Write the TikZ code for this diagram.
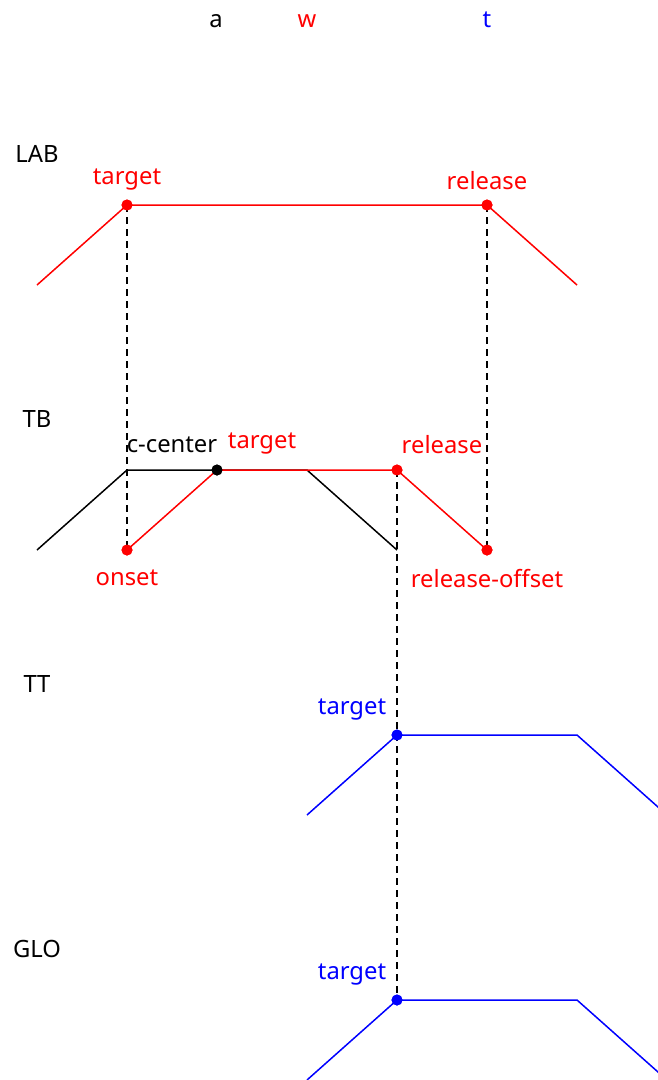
\documentclass[tikz,border=0pt]{standalone}
\usepackage{fontspec}
\setmainfont{Noto Sans}
\begin{document}
\begin{tikzpicture}[x=1pt,y=-1pt,
  txt/.style={inner sep=0pt,font=\fontsize{23.8}{28}\selectfont},
  row/.style={txt,anchor=base},
  up/.style={txt,anchor=south},
  down/.style={txt,anchor=north},
  guide/.style={draw=black,line width=1.5pt,dash pattern=on 7pt off 5pt},
  traj/.style={line width=1.5pt},
  dot/.style={circle,fill,inner sep=0pt,minimum size=11pt}]
\useasboundingbox (0,0) rectangle (658,1080);
\clip (0,0) rectangle (658,1080);
% header
\node[row] (ha) at (216,27) {a};
\node[row,text=red] (hw) at (307,27) {w};
\node[row,text=blue] (ht) at (487,27) {t};
% row labels
\node[row] (lab) at (37,162) {LAB};
\node[row] (tb) at (37,427) {TB};
\node[row] (tt) at (37,692) {TT};
\node[row] (glo) at (37,957) {GLO};
% coordinates
\coordinate (L0) at (37,285); \coordinate (L3) at (577,285);
\coordinate (B0) at (37,550); \coordinate (B1) at (127,470);
\coordinate (B2) at (307,470); \coordinate (B3) at (397,550);
\coordinate (T0) at (307,815); \coordinate (T2) at (577,735); \coordinate (T3) at (667,815);
\coordinate (G0) at (307,1080); \coordinate (G2) at (577,1000); \coordinate (G3) at (667,1080);
% points
\node[dot,red] (Ltar) at (127,205) {};
\node[dot,red] (Lrel) at (487,205) {};
\node[dot,red] (Bon) at (127,550) {};
\node[dot,black] (Bcc) at (217,470) {};
\node[dot,red] (Brel) at (397,470) {};
\node[dot,red] (Boff) at (487,550) {};
\node[dot,blue] (Ttar) at (397,735) {};
\node[dot,blue] (Gtar) at (397,1000) {};
% dashed guides
\draw[guide] (Ltar.center) -- (Bon.center);
\draw[guide] (Lrel.center) -- (Boff.center);
\draw[guide] (Brel.center) -- (Gtar.center);
% trajectories
\draw[traj,red] (L0) -- (Ltar.center) -- (Lrel.center) -- (L3);
\draw[traj,black] (B0) -- (B1) -- (B2) -- (B3);
\draw[traj,red] (Bon.center) -- (Bcc.center) -- (Brel.center) -- (Boff.center);
\draw[traj,blue] (T0) -- (Ttar.center) -- (T2) -- (T3);
\draw[traj,blue] (G0) -- (Gtar.center) -- (G2) -- (G3);
% dots on top
\node[dot,red] at (Ltar) {};
\node[dot,red] at (Lrel) {};
\node[dot,red] at (Bon) {};
\node[dot,black] at (Bcc) {};
\node[dot,red] at (Brel) {};
\node[dot,red] at (Boff) {};
\node[dot,blue] at (Ttar) {};
\node[dot,blue] at (Gtar) {};
% labels
\node[up,text=red] (l1) at (127,190) {target};
\node[up,text=red] (l2) at (487,190) {release};
\node[up] (l3) at (172,453) {c-center};
\node[up,text=red] (l4) at (262,454) {target};
\node[up,text=red] (l5) at (442,454) {release};
\node[down,text=red] (l6) at (127,570) {onset};
\node[down,text=red] (l7) at (487,569) {release-offset};
\node[up,text=blue] (l8) at (352,720) {target};
\node[up,text=blue] (l9) at (352,985) {target};
\end{tikzpicture}
\end{document}
